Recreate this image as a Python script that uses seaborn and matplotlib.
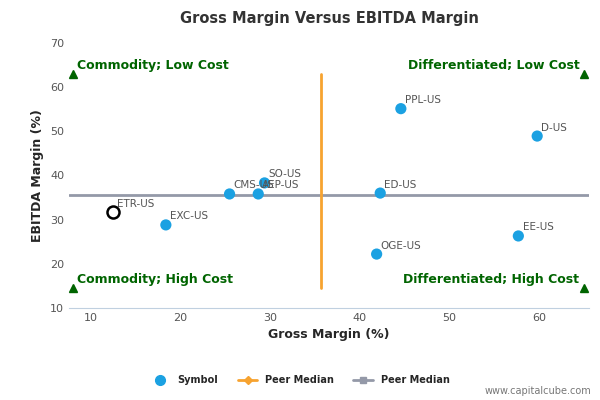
import matplotlib
matplotlib.use("Agg")
import matplotlib.pyplot as plt
import seaborn as sns
import pandas as pd
from matplotlib.lines import Line2D

# Data
symbols = ["PPL-US", "D-US", "SO-US", "CMS-US", "AEP-US", "ED-US", "EXC-US", "OGE-US", "EE-US"]
gross = [44.6, 59.8, 29.4, 25.5, 28.7, 42.3, 18.4, 41.9, 57.7]
ebitda = [55.1, 48.9, 38.3, 35.8, 35.8, 36.0, 28.8, 22.2, 26.3]
focus_symbol = "ETR-US"
focus_gross = 12.5
focus_ebitda = 31.7
median_gross = 35.7
median_ebitda = 35.6
quad_x = [8, 65]
quad_y = [14.5, 63]

df = pd.DataFrame({"Symbol": symbols, "Gross": gross, "EBITDA": ebitda})

sns.set_style("white")
fig, ax = plt.subplots(figsize=(6, 4), dpi=100)
fig.subplots_adjust(left=0.115, right=0.982, top=0.893, bottom=0.23)

ax.axhline(median_ebitda, color="#9499a8", lw=2, zorder=1)
ax.plot([median_gross, median_gross], quad_y, color="#f7a330", lw=2, zorder=1)

sns.scatterplot(data=df, x="Gross", y="EBITDA", color="#1ba1e2", s=65,
                edgecolor="none", ax=ax, zorder=3, legend=False)
ax.scatter([focus_gross], [focus_ebitda], s=75, facecolor="white",
           edgecolor="black", linewidth=1.8, zorder=4)

for s, x, y in zip(symbols + [focus_symbol], gross + [focus_gross], ebitda + [focus_ebitda]):
    ax.annotate(s, (x, y), xytext=(3, 4), textcoords="offset points",
                fontsize=7.5, color="#555555")

green = "#006400"
for xx in quad_x:
    for yy in quad_y:
        ax.plot(xx, yy, marker="^", color=green, ms=6, clip_on=False, zorder=5)
ax.text(8.5, 63.5, "Commodity; Low Cost", color=green, fontsize=9, fontweight="bold", va="bottom")
ax.text(64.5, 63.5, "Differentiated; Low Cost", color=green, fontsize=9, fontweight="bold", va="bottom", ha="right")
ax.text(8.5, 15, "Commodity; High Cost", color=green, fontsize=9, fontweight="bold", va="bottom")
ax.text(64.5, 15, "Differentiated; High Cost", color=green, fontsize=9, fontweight="bold", va="bottom", ha="right")

ax.set_xlim(7.6, 65.6)
ax.set_ylim(10, 70)
ax.set_xticks([10, 20, 30, 40, 50, 60])
ax.set_yticks([10, 20, 30, 40, 50, 60, 70])
ax.tick_params(labelsize=8, colors="#555555", length=0)
ax.set_xlabel("Gross Margin (%)", fontsize=9, fontweight="bold")
ax.set_ylabel("EBITDA Margin (%)", fontsize=9, fontweight="bold")
ax.set_title("Gross Margin Versus EBITDA Margin", fontsize=10.5, fontweight="bold", color="#333333", pad=14)
for side in ["top", "right", "left"]:
    ax.spines[side].set_visible(False)
ax.spines["bottom"].set_color("#c0d0e0")

handles = [
    Line2D([], [], marker="o", color="#1ba1e2", ls="none", ms=7),
    Line2D([], [], marker="D", color="#f7a330", ms=4, lw=2),
    Line2D([], [], marker="s", color="#9499a8", ms=5, lw=2),
]
fig.legend(handles, ["Symbol", "Peer Median", "Peer Median"], loc="lower center",
           bbox_to_anchor=(0.5, 0.015), ncol=3, frameon=False,
           prop={"size": 7, "weight": "bold"}, handlelength=2)
fig.text(0.985, 0.015, "www.capitalcube.com", ha="right", fontsize=7, color="#777777")

fig.savefig("out.png")
